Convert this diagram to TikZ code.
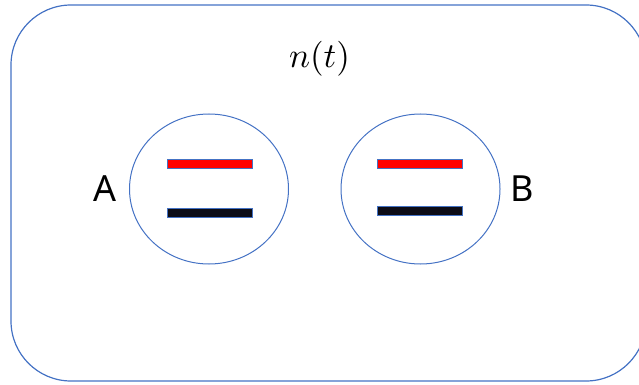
\documentclass[tikz,border=0pt]{standalone}
\usepackage{fontspec}
\newfontfamily\tagfont{Noto Sans}
\usetikzlibrary{shapes.geometric}
\definecolor{cLine}{RGB}{68,114,196}
\definecolor{cUp}  {RGB}{255,0,0}
\definecolor{cDown}{RGB}{12,12,22}

\begin{document}
\begin{tikzpicture}[
    x=1pt, y=-1pt,
    site/.style={ellipse, draw=cLine, line width=1pt, minimum width=159pt,
                 minimum height=150pt, inner sep=0pt},
    % energy levels: thin bars with a blue rim
    level/.style={rectangle, draw=cLine, line width=0.4pt, minimum width=85pt,
                  minimum height=9pt, inner sep=0pt},
    tag/.style={font=\tagfont\fontsize{36}{40}\selectfont, inner sep=0pt},
]
\useasboundingbox (0,0) rectangle (639,385);

% --- Outer box (runs past the right edge)
\draw[cLine, line width=1.2pt, rounded corners=60pt] (11,5) rectangle (646,381);
\node[inner sep=0pt, scale=3.5] (nt) at (319.5,58.5) {$n(t)$};

% --- Site A
\node[site] (siteA) at (209,189) {};
\node[level, fill=cUp]   (upA)   at (209.5,163.5) {};
\node[level, fill=cDown] (downA) at (209.5,212.5) {};
\node[tag] (tagA) at (105,189) {A};

% --- Site B
\node[site] (siteB) at (420.5,189) {};
\node[level, fill=cUp]   (upB)   at (420,163.5) {};
\node[level, fill=cDown] (downB) at (420,211) {};
\node[tag] (tagB) at (522,189) {B};
\end{tikzpicture}
\end{document}
